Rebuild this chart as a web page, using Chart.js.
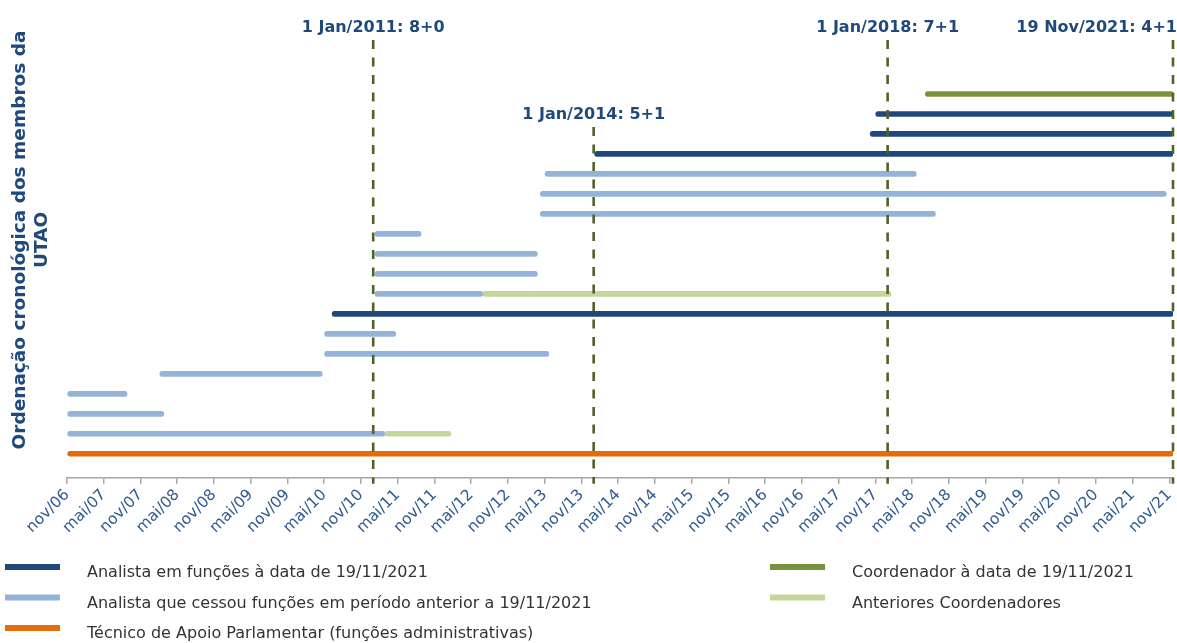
<!DOCTYPE html>
<html lang="pt">
<head>
<meta charset="utf-8">
<title>Membros da UTAO</title>
<script src="https://cdn.jsdelivr.net/npm/chart.js@4.4.0/dist/chart.umd.min.js"></script>
<style>
    html, body { margin: 0; padding: 0; background: #fff; }
    #grafico { display: block; }
</style>
</head>
<body>
<canvas id="grafico" width="1177" height="643"></canvas>
<script>
// rótulos do eixo x, de 6 em 6 meses a partir de nov/06
const rotulosEixo = [
    'nov/06', 'mai/07', 'nov/07', 'mai/08', 'nov/08', 'mai/09', 'nov/09', 'mai/10',
    'nov/10', 'mai/11', 'nov/11', 'mai/12', 'nov/12', 'mai/13', 'nov/13', 'mai/14',
    'nov/14', 'mai/15', 'nov/15', 'mai/16', 'nov/16', 'mai/17', 'nov/17', 'mai/18',
    'nov/18', 'mai/19', 'nov/19', 'mai/20', 'nov/20', 'mai/21', 'nov/21'
];

// cada segmento: [linha, início, fim]
const analistasEmFuncoes = [
    [8, '2010-06-10', '2021-11-19'],
    [16, '2014-01-06', '2021-11-19'],
    [17, '2017-10-06', '2021-11-19'],
    [18, '2017-11-03', '2021-11-19']
];
const analistasCessaram = [
    [2, '2006-11-01', '2011-02-27'],
    [3, '2006-11-01', '2008-02-25'],
    [4, '2006-11-01', '2007-08-25'],
    [5, '2008-02-06', '2010-04-21'],
    [6, '2010-05-03', '2013-05-21'],
    [7, '2010-05-03', '2011-04-21'],
    [9, '2011-01-10', '2012-06-28'],
    [10, '2011-01-10', '2013-03-25'],
    [11, '2011-01-10', '2013-03-25'],
    [12, '2011-01-10', '2011-08-25'],
    [13, '2013-04-10', '2018-08-25'],
    [14, '2013-04-10', '2021-10-16'],
    [15, '2013-05-03', '2018-05-21']
];
const tecnicoApoio = [
    [1, '2006-11-01', '2021-11-19']
];
const coordenadorAtual = [
    [19, '2018-07-06', '2021-11-19']
];
const coordenadoresAnteriores = [
    [2, '2011-02-27', '2012-01-21'],
    [9, '2012-06-28', '2018-01-18']
];

// linhas verticais de referência
const marcosData = ['2011-01-01', '2014-01-01', '2018-01-01', '2021-11-19'];
const marcosTexto = ['1 Jan/2011: 8+0', '1 Jan/2014: 5+1', '1 Jan/2018: 7+1', '19 Nov/2021: 4+1'];

const tituloEixoY = ['Ordenação cronológica dos membros da', 'UTAO'];

// meses decorridos desde 1 nov 2006
function meses(data) {
    const [ano, mes, dia] = data.split('-').map(Number);
    return (ano - 2006) * 12 + (mes - 11) + (dia - 1) / 30;
}

function segmentos(lista) {
    return lista.map(s => ({ x: [meses(s[1]), meses(s[2])], y: s[0] }));
}

function serie(nome, lista, cor) {
    return {
        label: nome,
        data: segmentos(lista),
        backgroundColor: cor,
        barThickness: 5,
        borderRadius: 3,
        borderSkipped: false,
        grouped: false
    };
}

const fonte = 'DejaVu Sans';

const pluginMarcos = {
    id: 'marcos',
    afterDatasetsDraw(chart) {
        const { ctx, chartArea, scales } = chart;
        ctx.save();
        for (let i = 0; i < marcosData.length; i++) {
            const px = scales.x.getPixelForValue(meses(marcosData[i]));
            // o rótulo de 2014 fica mais abaixo para não colidir
            const topo = (i == 1) ? scales.y.getPixelForValue(17.35) : chartArea.top;
            ctx.strokeStyle = '#4f6228';
            ctx.lineWidth = 2.6;
            ctx.setLineDash([9, 8.5]);
            ctx.beginPath();
            ctx.moveTo(px, topo);
            ctx.lineTo(px, chartArea.bottom + 6);
            ctx.stroke();

            ctx.setLineDash([]);
            ctx.font = 'bold 16px ' + fonte;
            ctx.fillStyle = '#1f497d';
            ctx.textBaseline = 'middle';
            const largura = ctx.measureText(marcosTexto[i]).width;
            if (px + largura / 2 > chart.width) {
                ctx.textAlign = 'right';
                ctx.fillText(marcosTexto[i], chart.width, topo - 12);
            } else {
                ctx.textAlign = 'center';
                ctx.fillText(marcosTexto[i], px, topo - 12);
            }
        }
        ctx.restore();
    }
};

const pluginTituloY = {
    id: 'tituloY',
    afterDraw(chart) {
        const ctx = chart.ctx;
        ctx.save();
        ctx.translate(20, 240);
        ctx.rotate(-Math.PI / 2);
        ctx.font = 'bold 18.5px ' + fonte;
        ctx.fillStyle = '#1f497d';
        ctx.textAlign = 'center';
        ctx.textBaseline = 'middle';
        ctx.fillText(tituloEixoY[0], 0, 0);
        ctx.fillText(tituloEixoY[1], 0, 22);
        ctx.restore();
    }
};

const pluginLegenda = {
    id: 'legendaUtao',
    afterDraw(chart) {
        const ctx = chart.ctx;
        const sets = chart.data.datasets;
        // ordem: coluna esquerda (3) e coluna direita (2)
        const itens = [
            { ds: 0, x: 5, y: 567 },
            { ds: 1, x: 5, y: 597.5 },
            { ds: 2, x: 5, y: 628 },
            { ds: 3, x: 770, y: 567 },
            { ds: 4, x: 770, y: 597.5 }
        ];
        ctx.save();
        ctx.font = '16px ' + fonte;
        ctx.textAlign = 'left';
        ctx.textBaseline = 'middle';
        itens.forEach(item => {
            ctx.fillStyle = sets[item.ds].backgroundColor;
            ctx.fillRect(item.x, item.y - 3, 55, 6);
            ctx.fillStyle = '#333333';
            ctx.fillText(sets[item.ds].label, item.x + 82, item.y + 6);
        });
        ctx.restore();
    }
};

const ctx = document.getElementById('grafico');

new Chart(ctx, {
    type: 'bar',
    data: {
        datasets: [
            serie('Analista em funções à data de 19/11/2021', analistasEmFuncoes, '#1f497d'),
            serie('Analista que cessou funções em período anterior a 19/11/2021', analistasCessaram, '#95b3d7'),
            serie('Técnico de Apoio Parlamentar (funções administrativas)', tecnicoApoio, '#e46c0a'),
            serie('Coordenador à data de 19/11/2021', coordenadorAtual, '#77933c'),
            serie('Anteriores Coordenadores', coordenadoresAnteriores, '#c3d69b')
        ]
    },
    options: {
        indexAxis: 'y',
        responsive: false,
        animation: false,
        layout: {
            padding: { left: 67, right: 4, top: 40, bottom: 104 }
        },
        plugins: {
            legend: { display: false },
            tooltip: { enabled: false }
        },
        scales: {
            x: {
                type: 'linear',
                min: 0,
                max: meses('2021-11-19'),
                afterBuildTicks: function (escala) {
                    escala.ticks = rotulosEixo.map((r, i) => ({ value: i * 6 }));
                },
                afterFit: function (escala) {
                    escala.paddingRight = 0;
                },
                ticks: {
                    autoSkip: false,
                    maxRotation: 45,
                    minRotation: 45,
                    padding: 2,
                    color: '#2f5b93',
                    font: { family: fonte, size: 15.5 },
                    callback: function (valor, indice) {
                        return rotulosEixo[indice];
                    }
                },
                grid: {
                    display: true,
                    drawOnChartArea: false,
                    drawTicks: true,
                    tickLength: 6,
                    color: '#a6a6a6',
                    lineWidth: 1.5
                },
                border: { display: true, color: '#a6a6a6', width: 1.5 }
            },
            y: {
                type: 'linear',
                min: -0.2,
                max: 21.7,
                offset: false,
                display: false
            }
        }
    },
    plugins: [pluginMarcos, pluginTituloY, pluginLegenda]
});
</script>
</body>
</html>
